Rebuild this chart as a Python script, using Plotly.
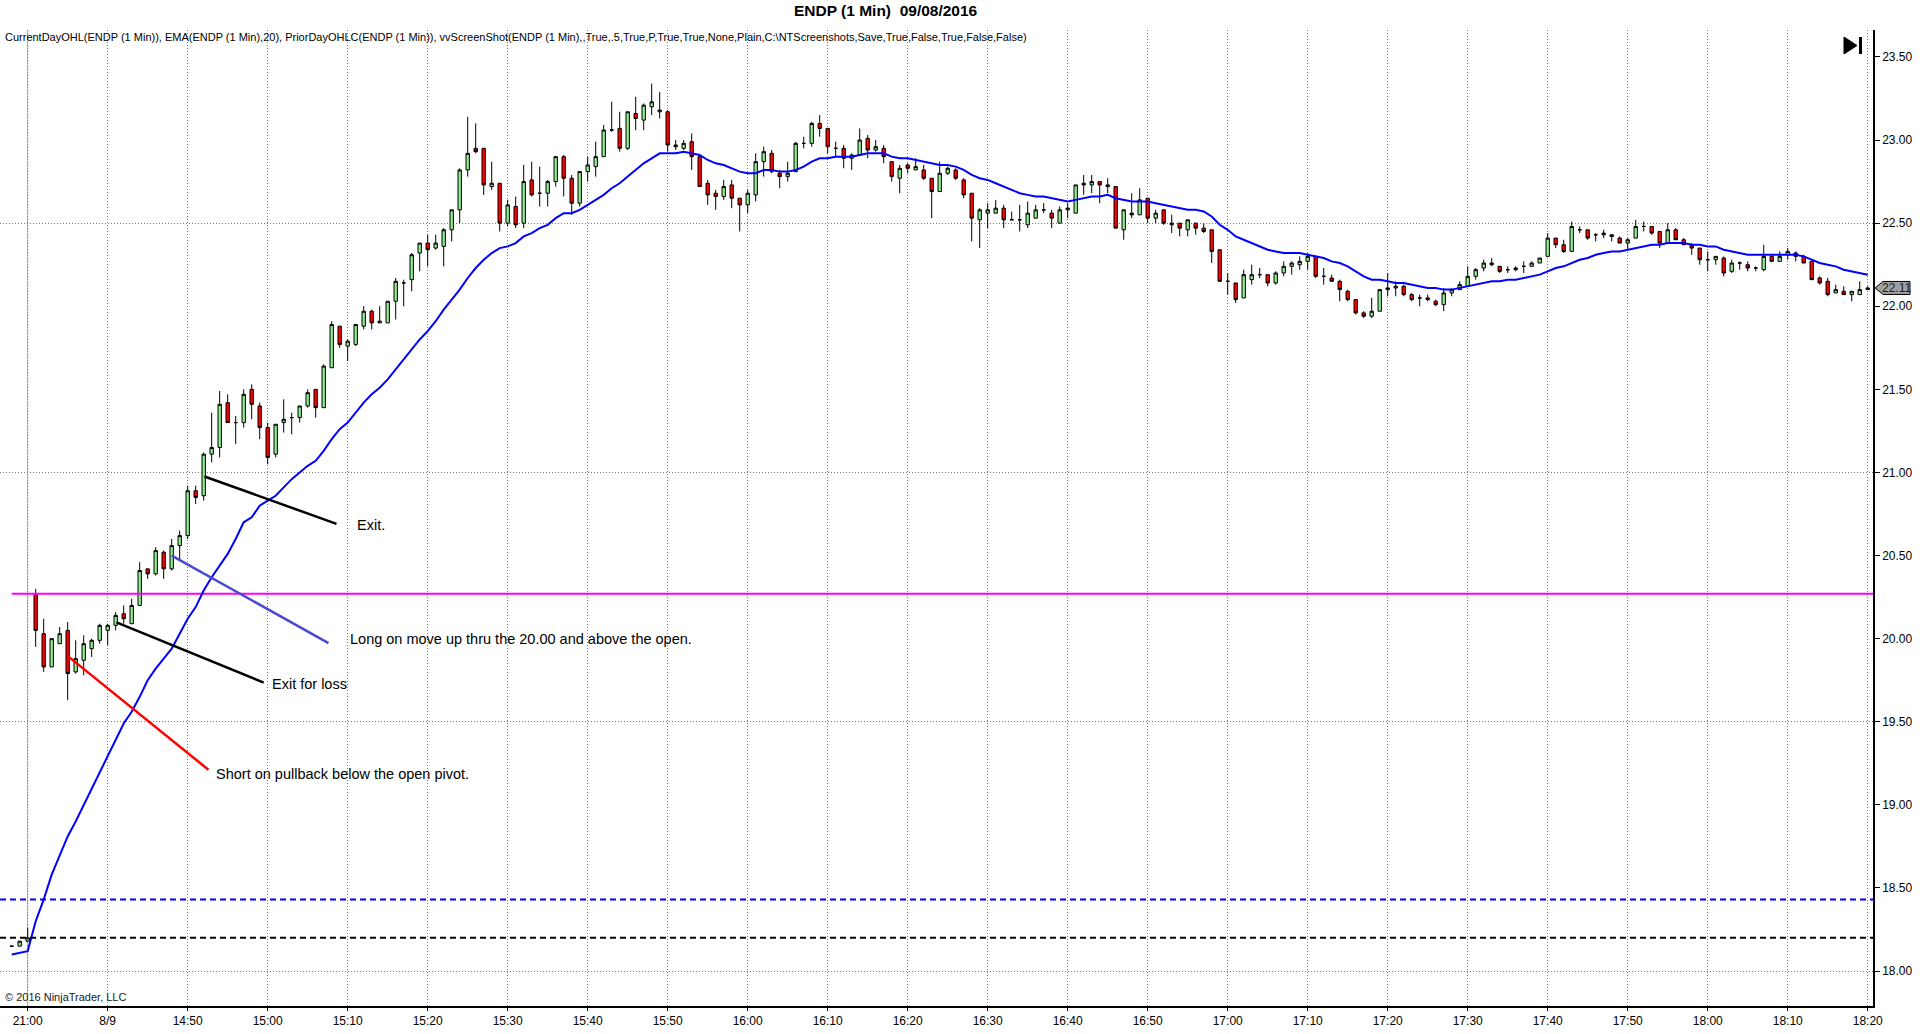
import plotly.graph_objects as go

# ---------------- data ----------------
opens = [18.15,18.15,18.18,20.27,20.03,19.83,19.97,20.05,19.80,19.87,
         19.94,19.99,20.05,20.08,20.15,20.09,20.20,20.42,20.39,20.52,
         20.42,20.56,20.62,20.89,20.86,21.11,21.15,21.42,21.30,21.30,
         21.50,21.40,21.27,21.11,21.30,21.33,21.33,21.40,21.50,21.39,
         21.63,21.88,21.76,21.77,21.88,21.97,21.90,21.90,22.03,22.14,
         22.16,22.32,22.38,22.35,22.36,22.46,22.58,22.82,22.95,22.95,
         22.72,22.74,22.50,22.60,22.50,22.76,22.68,22.68,22.75,22.90,
         22.77,22.62,22.81,22.84,22.90,23.06,23.07,22.95,23.16,23.12,
         23.20,23.17,23.17,22.97,22.95,22.99,22.90,22.74,22.68,22.66,
         22.73,22.65,22.61,22.67,22.87,22.92,22.80,22.78,22.81,22.98,
         22.98,23.10,23.07,22.95,22.95,22.89,22.91,23.01,22.94,22.95,
         22.87,22.77,22.85,22.82,22.82,22.77,22.69,22.80,22.82,22.76,
         22.68,22.52,22.56,22.56,22.59,22.52,22.52,22.49,22.53,22.58,
         22.56,22.50,22.58,22.56,22.74,22.73,22.75,22.73,22.72,22.46,
         22.56,22.55,22.65,22.53,22.58,22.49,22.50,22.46,22.50,22.47,
         22.46,22.34,22.15,22.14,22.05,22.16,22.19,22.19,22.14,22.20,
         22.24,22.25,22.27,22.30,22.18,22.17,22.15,22.09,22.04,21.96,
         21.94,21.97,22.10,22.11,22.12,22.07,22.05,22.05,22.03,22.01,
         22.08,22.10,22.12,22.18,22.23,22.26,22.24,22.22,22.22,22.24,
         22.24,22.26,22.30,22.41,22.37,22.33,22.46,22.46,22.43,22.43,
         22.43,22.41,22.38,22.41,22.48,22.48,22.45,22.38,22.46,22.40,
         22.37,22.35,22.28,22.28,22.29,22.21,22.26,22.25,22.23,22.22,
         22.30,22.27,22.31,22.32,22.30,22.27,22.17,22.15,22.08,22.09,
         22.07,22.07,22.10]
highs = [18.15,18.18,18.26,20.30,20.12,20.00,20.07,20.10,19.99,20.02,
         20.00,20.09,20.09,20.16,20.20,20.24,20.46,20.42,20.55,20.53,
         20.60,20.65,20.92,20.92,21.12,21.36,21.49,21.47,21.34,21.50,
         21.53,21.42,21.30,21.29,21.44,21.36,21.40,21.50,21.50,21.65,
         21.91,21.88,21.80,21.89,22.00,21.98,22.00,22.03,22.17,22.16,
         22.32,22.38,22.43,22.43,22.47,22.58,22.83,23.14,23.10,22.95,
         22.87,22.74,22.64,22.66,22.85,22.87,22.84,22.76,22.90,22.91,
         22.79,22.81,22.90,22.99,23.09,23.23,23.17,23.17,23.26,23.22,
         23.34,23.29,23.18,23.00,23.00,23.04,22.90,22.76,22.70,22.76,
         22.76,22.65,22.70,22.92,22.96,22.94,22.82,22.87,22.99,23.02,
         23.11,23.15,23.07,22.99,22.97,22.92,23.07,23.03,23.00,22.97,
         22.87,22.85,22.86,22.89,22.85,22.77,22.87,22.84,22.83,22.77,
         22.68,22.59,22.62,22.64,22.61,22.57,22.61,22.63,22.61,22.62,
         22.58,22.60,22.62,22.73,22.79,22.79,22.75,22.77,22.72,22.58,
         22.68,22.71,22.65,22.58,22.58,22.55,22.50,22.52,22.50,22.50,
         22.46,22.34,22.20,22.14,22.22,22.25,22.23,22.19,22.21,22.27,
         22.27,22.30,22.32,22.30,22.23,22.19,22.16,22.10,22.04,21.97,
         22.05,22.10,22.20,22.15,22.13,22.08,22.07,22.07,22.04,22.11,
         22.11,22.15,22.24,22.23,22.28,22.29,22.24,22.24,22.24,22.27,
         22.27,22.29,22.44,22.41,22.40,22.51,22.48,22.46,22.44,22.46,
         22.43,22.42,22.41,22.52,22.51,22.48,22.45,22.50,22.47,22.41,
         22.38,22.35,22.33,22.30,22.30,22.28,22.27,22.27,22.24,22.37,
         22.31,22.33,22.35,22.33,22.31,22.27,22.18,22.17,22.13,22.12,
         22.09,22.15,22.12]
lows = [18.15,18.15,18.18,19.95,19.80,19.83,19.97,19.63,19.79,19.78,
        19.89,19.97,19.96,20.05,20.09,20.09,20.20,20.36,20.38,20.36,
        20.41,20.47,20.60,20.81,20.83,21.06,21.09,21.30,21.17,21.27,
        21.32,21.20,21.05,21.09,21.24,21.23,21.30,21.39,21.33,21.39,
        21.63,21.75,21.67,21.76,21.86,21.86,21.90,21.90,21.92,22.00,
        22.09,22.21,22.24,22.34,22.24,22.39,22.50,22.78,22.92,22.67,
        22.70,22.45,22.48,22.47,22.47,22.66,22.60,22.60,22.72,22.66,
        22.55,22.60,22.75,22.78,22.90,23.05,22.93,22.94,23.06,23.06,
        23.15,23.13,22.93,22.94,22.94,22.82,22.72,22.61,22.58,22.64,
        22.59,22.45,22.56,22.63,22.78,22.80,22.71,22.75,22.81,22.95,
        22.96,23.02,22.92,22.90,22.83,22.82,22.91,22.89,22.93,22.86,
        22.75,22.68,22.80,22.82,22.76,22.53,22.69,22.79,22.76,22.65,
        22.39,22.35,22.47,22.56,22.47,22.52,22.45,22.47,22.53,22.56,
        22.47,22.50,22.53,22.56,22.67,22.68,22.62,22.68,22.47,22.40,
        22.53,22.55,22.50,22.50,22.49,22.44,22.42,22.42,22.43,22.44,
        22.26,22.15,22.07,22.02,22.05,22.13,22.17,22.12,22.13,22.18,
        22.19,22.22,22.22,22.17,22.13,22.15,22.03,22.03,21.95,21.93,
        21.93,21.97,22.06,22.06,22.06,22.03,22.00,22.03,22.00,21.97,
        22.06,22.10,22.12,22.16,22.21,22.24,22.20,22.20,22.21,22.20,
        22.24,22.26,22.30,22.35,22.32,22.33,22.44,22.40,22.39,22.41,
        22.39,22.38,22.34,22.41,22.45,22.43,22.35,22.38,22.40,22.37,
        22.31,22.25,22.21,22.25,22.18,22.20,22.22,22.21,22.21,22.21,
        22.27,22.27,22.28,22.27,22.26,22.16,22.13,22.06,22.08,22.07,
        22.03,22.07,22.10]
closes = [18.15,18.18,18.20,20.05,19.83,20.00,20.03,19.79,19.88,19.97,
          19.99,20.08,20.08,20.14,20.12,20.20,20.41,20.39,20.53,20.42,
          20.56,20.62,20.89,20.85,21.11,21.15,21.41,21.30,21.30,21.47,
          21.41,21.27,21.09,21.29,21.32,21.33,21.40,21.48,21.39,21.64,
          21.89,21.77,21.79,21.89,21.97,21.90,21.91,22.03,22.15,22.14,
          22.31,22.38,22.34,22.38,22.46,22.58,22.82,22.92,22.93,22.73,
          22.74,22.50,22.61,22.49,22.75,22.67,22.68,22.75,22.90,22.77,
          22.62,22.81,22.85,22.90,23.06,23.06,22.95,23.17,23.13,23.21,
          23.23,23.18,22.97,22.96,22.98,22.90,22.72,22.67,22.66,22.72,
          22.65,22.61,22.68,22.87,22.93,22.81,22.78,22.80,22.98,22.98,
          23.10,23.07,22.96,22.95,22.89,22.91,23.00,22.94,22.96,22.90,
          22.78,22.83,22.83,22.84,22.77,22.69,22.80,22.83,22.77,22.67,
          22.53,22.58,22.58,22.59,22.52,22.52,22.52,22.56,22.58,22.58,
          22.53,22.58,22.59,22.73,22.73,22.75,22.73,22.72,22.47,22.58,
          22.55,22.64,22.53,22.56,22.50,22.50,22.47,22.52,22.47,22.45,
          22.33,22.15,22.15,22.04,22.19,22.19,22.19,22.14,22.20,22.24,
          22.26,22.27,22.30,22.18,22.18,22.15,22.10,22.04,21.96,21.94,
          21.97,22.10,22.11,22.12,22.07,22.04,22.05,22.04,22.01,22.08,
          22.10,22.13,22.18,22.22,22.26,22.25,22.21,22.22,22.23,22.24,
          22.26,22.29,22.41,22.37,22.33,22.48,22.46,22.41,22.43,22.44,
          22.42,22.38,22.40,22.48,22.48,22.44,22.38,22.46,22.40,22.37,
          22.35,22.28,22.28,22.30,22.20,22.26,22.26,22.23,22.23,22.30,
          22.27,22.30,22.33,22.30,22.26,22.16,22.14,22.07,22.10,22.07,
          22.09,22.10,22.11]
ema20 = [18.10,18.11,18.12,18.30,18.43,18.58,18.70,18.81,18.90,19.00,
         19.10,19.20,19.30,19.40,19.49,19.56,19.65,19.75,19.82,19.88,
         19.94,20.03,20.12,20.19,20.29,20.37,20.44,20.51,20.60,20.70,
         20.73,20.80,20.83,20.86,20.91,20.96,21.00,21.04,21.07,21.13,
         21.20,21.26,21.30,21.36,21.42,21.47,21.51,21.56,21.62,21.68,
         21.74,21.80,21.85,21.91,21.98,22.04,22.10,22.17,22.23,22.28,
         22.32,22.35,22.36,22.38,22.42,22.44,22.47,22.49,22.53,22.56,
         22.56,22.58,22.61,22.64,22.67,22.71,22.74,22.78,22.82,22.86,
         22.89,22.92,22.92,22.92,22.93,22.92,22.91,22.88,22.86,22.85,
         22.83,22.81,22.80,22.80,22.82,22.82,22.81,22.81,22.82,22.84,
         22.87,22.89,22.89,22.90,22.90,22.90,22.91,22.92,22.92,22.92,
         22.90,22.89,22.89,22.88,22.87,22.86,22.85,22.85,22.84,22.82,
         22.79,22.77,22.76,22.74,22.72,22.70,22.68,22.67,22.66,22.66,
         22.65,22.64,22.63,22.64,22.65,22.66,22.66,22.67,22.65,22.64,
         22.63,22.63,22.63,22.62,22.61,22.60,22.59,22.58,22.58,22.57,
         22.54,22.49,22.46,22.42,22.40,22.38,22.36,22.34,22.33,22.32,
         22.32,22.32,22.31,22.30,22.29,22.27,22.26,22.24,22.21,22.18,
         22.16,22.16,22.15,22.14,22.14,22.13,22.12,22.11,22.11,22.10,
         22.10,22.11,22.12,22.13,22.14,22.15,22.15,22.16,22.16,22.17,
         22.18,22.19,22.21,22.23,22.24,22.26,22.28,22.29,22.31,22.32,
         22.33,22.33,22.34,22.35,22.36,22.37,22.37,22.38,22.38,22.38,
         22.37,22.37,22.36,22.36,22.34,22.33,22.32,22.31,22.31,22.31,
         22.31,22.31,22.31,22.31,22.30,22.28,22.26,22.25,22.24,22.22,
         22.21,22.20,22.19]
bar_idx = list(range(len(closes)))

# x-axis labels (bar positions of every 10th minute)
label_bars = [2, 12] + list(range(22, 233, 10))
time_labels = ["21:00", "8/9", "14:50", "15:00", "15:10", "15:20", "15:30", "15:40",
               "15:50", "16:00", "16:10", "16:20", "16:30", "16:40", "16:50", "17:00",
               "17:10", "17:20", "17:30", "17:40", "17:50", "18:00", "18:10", "18:20"]
session_break_bar = 2
price_ticks = [18.0, 18.5, 19.0, 19.5, 20.0, 20.5, 21.0, 21.5, 22.0, 22.5, 23.0, 23.5]
price_grid = [18.0, 19.5, 21.0, 22.5]

current_day_open = 20.27
prior_day_high = 18.43
prior_day_close = 18.20

# hand-drawn lines: (bar, price) start, (bar, price) end, label position, label
draw_start_bar = [24.1, 20.0, 13.1, 7.1]
draw_start_price = [20.976, 20.50, 20.098, 19.892]
draw_end_bar = [40.6, 39.6, 31.5, 24.6]
draw_end_price = [20.691, 19.973, 19.736, 19.211]
draw_text_bar = [42.95, 42.0, 32.35, 25.25]
draw_text_price = [20.682, 20.001, 19.727, 19.187]
draw_texts = ["Exit.", "Long on move up thru the 20.00 and above the open.",
              "Exit for loss", "Short on pullback below the open pivot."]
draw_colors = ["#000000", "#4a4ad0", "#000000", "#ff0000"]

legend_text = ("CurrentDayOHL(ENDP (1 Min)), EMA(ENDP (1 Min),20), PriorDayOHLC(ENDP (1 Min)), "
               "vvScreenShot(ENDP (1 Min),,True,.5,True,P,True,True,None,Plain,C:\\NTScreenshots,"
               "Save,True,False,True,False,False)")
title_text = "ENDP (1 Min)\u00a0\u00a009/08/2016"

# ---------------- layout geometry (pixels) ----------------
W, H = 1920, 1034
PL, PR, PT, PB = 0, 1873, 30, 1006
X_RANGE = [-1.46, 232.66]
Y_RANGE = [17.79, 23.662]
FONT = "Liberation Sans, Arial, sans-serif"


def px_x(px):
    return (px - PL) / (PR - PL)


def px_y(py):
    return (PB - py) / (PB - PT)


fig = go.Figure()

fig.add_trace(go.Candlestick(
    x=bar_idx, open=opens, high=highs, low=lows, close=closes,
    increasing=dict(fillcolor="#90ee90", line=dict(color="black", width=1)),
    decreasing=dict(fillcolor="#ff0000", line=dict(color="black", width=1)),
    whiskerwidth=0, showlegend=False, hoverinfo="skip"))

fig.add_trace(go.Scatter(x=[bar_idx[0], X_RANGE[1]], y=[current_day_open, current_day_open],
                         mode="lines", line=dict(color="#ff00ff", width=2),
                         showlegend=False, hoverinfo="skip"))

fig.add_trace(go.Scatter(x=bar_idx, y=ema20, mode="lines",
                         line=dict(color="#0000ff", width=2),
                         showlegend=False, hoverinfo="skip"))

for i in range(len(draw_texts)):
    fig.add_trace(go.Scatter(x=[draw_start_bar[i], draw_end_bar[i]],
                             y=[draw_start_price[i], draw_end_price[i]],
                             mode="lines", line=dict(color=draw_colors[i], width=2.5),
                             showlegend=False, hoverinfo="skip"))
    fig.add_annotation(x=draw_text_bar[i], y=draw_text_price[i], xref="x", yref="y",
                       text=draw_texts[i], showarrow=False, xanchor="left", yanchor="middle",
                       font=dict(family=FONT, size=14.5, color="black"))

# dummy trace so the labelled right axis exists
fig.add_trace(go.Scatter(x=[None], y=[None], yaxis="y2", showlegend=False, hoverinfo="skip"))

fig.add_hline(y=prior_day_high, line=dict(color="#0000ff", width=2, dash="6px,4px"))
fig.add_hline(y=prior_day_close, line=dict(color="#000000", width=2, dash="6px,4px"))
fig.add_vline(x=session_break_bar, line=dict(color="#b4b4b4", width=1), layer="below")

# last price tag
last = closes[-1]
hh = 6.5 / (PB - PT) * (Y_RANGE[1] - Y_RANGE[0])
tag_path = (f"M {px_x(1875)} {last} L {px_x(1883)} {last + hh} L {px_x(1910)} {last + hh} "
            f"L {px_x(1910)} {last - hh} L {px_x(1883)} {last - hh} Z")
fig.add_shape(type="path", path=tag_path, xref="paper", yref="y",
              fillcolor="#a0a0a0", line=dict(color="black", width=1))
fig.add_annotation(x=px_x(1896.5), y=last, xref="paper", yref="y", text=f"{last:.2f}",
                   showarrow=False, xanchor="center", yanchor="middle",
                   font=dict(family=FONT, size=12, color="#202020"))

# "go to end" icon
fig.add_shape(type="path", xref="paper", yref="paper",
              path=(f"M {px_x(1844)} {px_y(37)} L {px_x(1857)} {px_y(45.5)} "
                    f"L {px_x(1844)} {px_y(54)} Z"),
              fillcolor="black", line=dict(color="black", width=1))
fig.add_shape(type="rect", xref="paper", yref="paper",
              x0=px_x(1859), x1=px_x(1862), y0=px_y(54), y1=px_y(37),
              fillcolor="black", line=dict(color="black", width=0))

fig.add_annotation(x=px_x(3), y=px_y(37), xref="paper", yref="paper", text=legend_text,
                   showarrow=False, xanchor="left", yanchor="middle",
                   font=dict(family=FONT, size=11, color="black"))
fig.add_annotation(x=px_x(886), y=px_y(10), xref="paper", yref="paper",
                   text=f"<b>{title_text}</b>", showarrow=False,
                   xanchor="center", yanchor="middle",
                   font=dict(family=FONT, size=15.5, color="black"))
fig.add_annotation(x=px_x(3), y=px_y(997), xref="paper", yref="paper",
                   text="\u00a9 2016 NinjaTrader, LLC", showarrow=False,
                   xanchor="left", yanchor="middle",
                   font=dict(family=FONT, size=11, color="#202020"))

grid_style = dict(gridcolor="#7a7a7a", griddash="1px,2px", gridwidth=1)
fig.update_layout(
    width=W, height=H, autosize=False,
    margin=dict(l=PL, r=W - PR, t=PT, b=H - PB, pad=0),
    paper_bgcolor="white", plot_bgcolor="white",
    boxgap=0.4, showlegend=False,
    font=dict(family=FONT, size=12, color="black"),
    xaxis=dict(range=X_RANGE, tickmode="array", tickvals=label_bars, ticktext=time_labels,
               showgrid=True, **grid_style, zeroline=False,
               showline=True, linecolor="black", linewidth=1.5,
               ticks="outside", ticklen=3, tickcolor="black",
               tickfont=dict(family=FONT, size=12, color="black"),
               rangeslider=dict(visible=False), fixedrange=True),
    yaxis=dict(range=Y_RANGE, tickmode="array", tickvals=price_grid, showticklabels=False,
               ticks="", showgrid=True, **grid_style, zeroline=False, showline=False,
               fixedrange=True),
    yaxis2=dict(range=Y_RANGE, overlaying="y", side="right", anchor="x",
                tickmode="array", tickvals=price_ticks,
                ticktext=[f"{v:.2f}" for v in price_ticks],
                ticks="outside", ticklen=5, tickcolor="black",
                showline=True, linecolor="black", linewidth=1.5,
                showgrid=False, zeroline=False, fixedrange=True,
                tickfont=dict(family=FONT, size=12, color="black")),
)

fig.write_html("out.html", config={"displayModeBar": False},
               post_script="document.body.style.margin='0';document.body.style.overflow='hidden';")
